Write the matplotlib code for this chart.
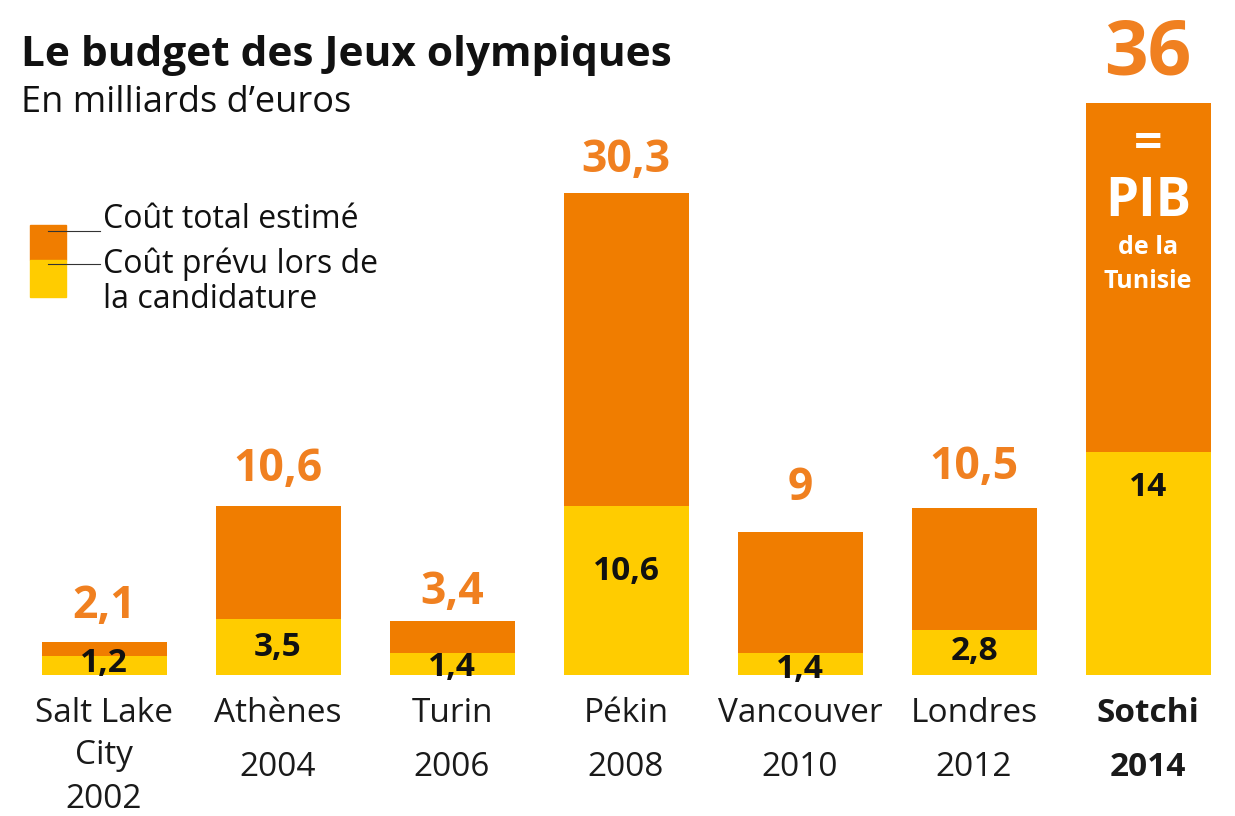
import matplotlib
matplotlib.use('Agg')
import matplotlib.pyplot as plt
import matplotlib.patches as patches
import numpy as np

plt.rcParams['font.family'] = ['Open Sans', 'DejaVu Sans']

# data
villes = ['Salt Lake\nCity\n2002', 'Athènes\n2004', 'Turin\n2006', 'Pékin\n2008',
          'Vancouver\n2010', 'Londres\n2012', 'Sotchi\n2014']
cout_total = [2.1, 10.6, 3.4, 30.3, 9, 10.5, 36]
cout_prevu = [1.2, 3.5, 1.4, 10.6, 1.4, 2.8, 14]
txt_total = ['2,1', '10,6', '3,4', '30,3', '9', '10,5', '36']
txt_prevu = ['1,2', '3,5', '1,4', '10,6', '1,4', '2,8', '14']

# layout (pixels)
gap_total = [13, 14, 6, 10, 21, 18, 10]      # space above bar for orange label
y_prevu = [663, 648, 667, 572, 669, 652, 488]  # centre of black label

ORANGE = '#F07D00'
YELLOW = '#FFCC00'
ORANGE_TXT = '#F08020'

W, H = 1235, 816
fig = plt.figure(figsize=(W / 100, H / 100), dpi=100)
ax = fig.add_axes([0, 0, 1, 1])
x0, step, base, ppu = 104, 174, 675, 15.9
ax.set_xlim(-x0 / step, (W - x0) / step)
ax.set_ylim(-(H - base) / ppu, base / ppu)
ax.axis('off')

def py(p):  # pixel row -> data y
    return (base - p) / ppu

x = np.arange(len(villes))
bw = 125 / step
ax.bar(x, cout_total, width=bw, color=ORANGE, linewidth=0)
ax.bar(x, cout_prevu, width=bw, color=YELLOW, linewidth=0)

for i in x:
    big = i == len(villes) - 1
    ax.annotate(txt_total[i], (i, cout_total[i]), xytext=(0, gap_total[i] * 0.72),
                textcoords='offset points', ha='center', va='bottom',
                color=ORANGE_TXT, fontweight='bold', fontsize=55 if big else 32)
    ax.text(i, py(y_prevu[i]), txt_prevu[i], ha='center', va='center',
            color='#111111', fontweight='bold', fontsize=24)
    lines = villes[i].split('\n')
    ys = [713, 755, 800] if len(lines) == 3 else [713, 768]
    for ln, yy in zip(lines, ys):
        ax.text(i, py(yy), ln, ha='center', va='center', color='#1a1a1a',
                fontsize=24, fontweight='bold' if big else 'normal')

# Sotchi annotation
s = len(villes) - 1
ax.text(s, py(145), '=', ha='center', va='center', color='white', fontsize=36, fontweight='bold')
ax.text(s, py(202), 'PIB', ha='center', va='center', color='white', fontsize=38, fontweight='bold')
ax.text(s, py(247), 'de la', ha='center', va='center', color='white', fontsize=18, fontweight='bold')
ax.text(s, py(282), 'Tunisie', ha='center', va='center', color='white', fontsize=18, fontweight='bold')

# titles
fig.text(21 / W, 1 - 56 / H, 'Le budget des Jeux olympiques', ha='left', va='center',
         fontsize=30.5, fontweight='bold', color='#111111')
fig.text(21 / W, 1 - 103 / H, 'En milliards d\u2019euros', ha='left', va='center',
         fontsize=26, color='#111111')

# legend
fig.patches.append(patches.Rectangle((30 / W, 1 - 260 / H), 36 / W, 35 / H,
                                     color=ORANGE, transform=fig.transFigure))
fig.patches.append(patches.Rectangle((30 / W, 1 - 297 / H), 36 / W, 37 / H,
                                     color=YELLOW, transform=fig.transFigure))
fig.lines.append(plt.Line2D([48 / W, 100 / W], [1 - 231 / H] * 2, color='#333333',
                            lw=0.8, transform=fig.transFigure))
fig.lines.append(plt.Line2D([48 / W, 100 / W], [1 - 264 / H] * 2, color='#333333',
                            lw=0.8, transform=fig.transFigure))
fig.text(103 / W, 1 - 220 / H, 'Coût total estimé', ha='left', va='center', fontsize=23, color='#111111')
fig.text(103 / W, 1 - 264 / H, 'Coût prévu lors de', ha='left', va='center', fontsize=23, color='#111111')
fig.text(103 / W, 1 - 300 / H, 'la candidature', ha='left', va='center', fontsize=23, color='#111111')

fig.savefig('out.png', dpi=100, facecolor='white')
